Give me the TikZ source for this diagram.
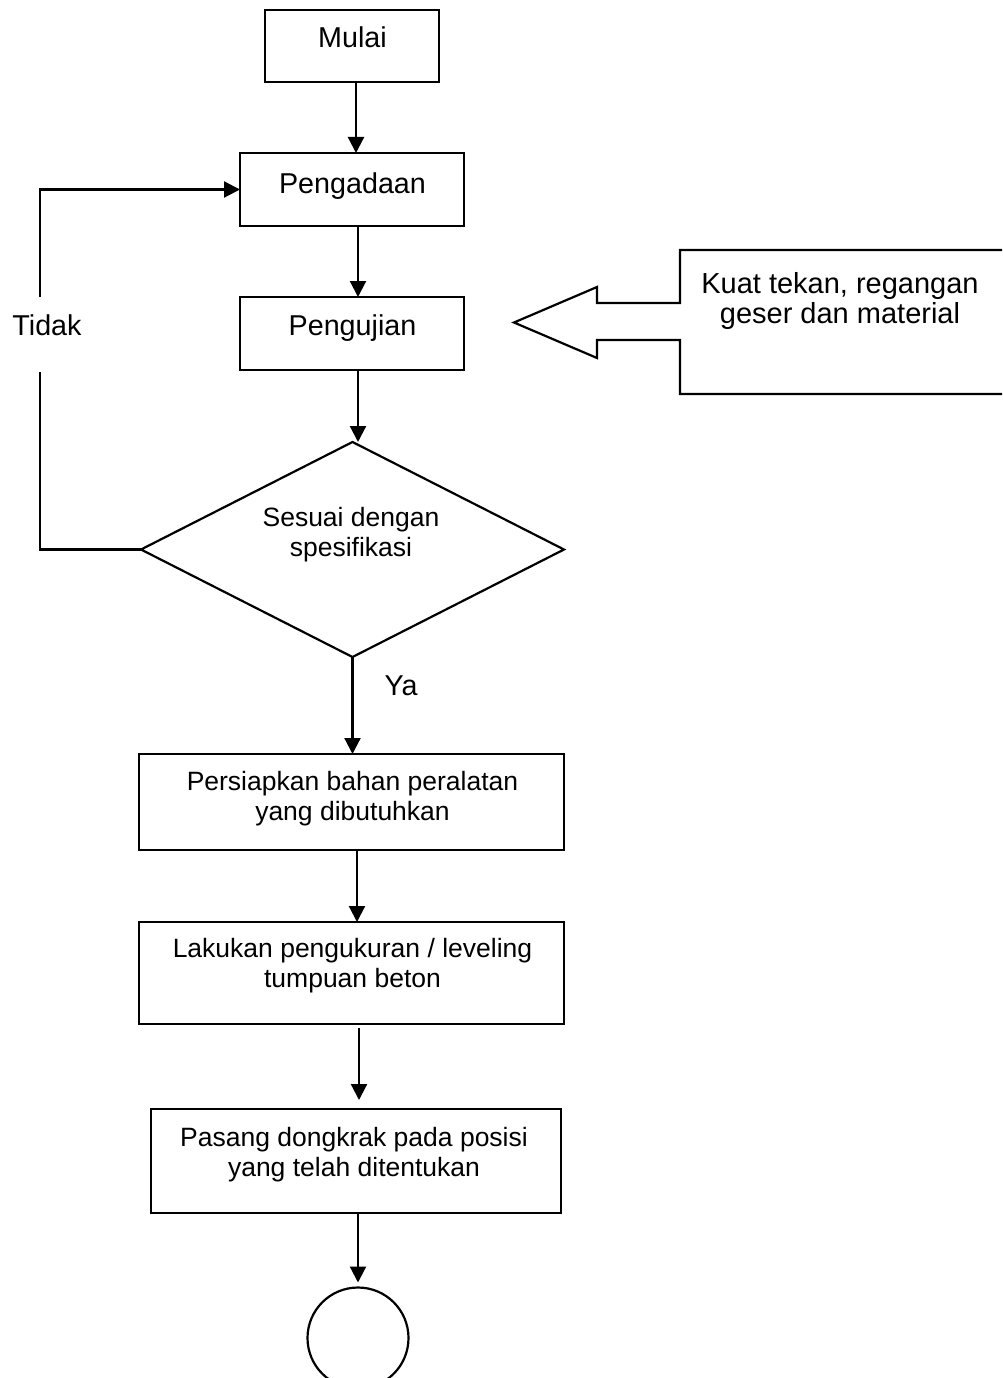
\documentclass[tikz,border=0pt]{standalone}
\usepackage{fontspec}
\setmainfont{Liberation Sans}
\usetikzlibrary{arrows.meta,shapes.geometric}
\begin{document}
\begin{tikzpicture}[x=1pt,y=-1pt,
  box/.style={draw, line width=2.2pt, inner sep=0pt, outer sep=0pt, rectangle},
  arr/.style={line width=2.2pt, -{Triangle[length=16pt,width=16pt]}},
  ln/.style={line width=2.2pt},
  big/.style={font=\fontsize{28.7}{30}\selectfont, inner sep=0pt, anchor=base},
  mid/.style={font=\fontsize{26.5}{30}\selectfont, inner sep=0pt, align=center, anchor=base},
  cal/.style={font=\fontsize{29}{30}\selectfont, inner sep=0pt, align=center, anchor=base},
]
\useasboundingbox (0,0) rectangle (1002,1378);
\clip (0,0) rectangle (1002,1378);
\fill[white] (0,0) rectangle (1002,1378);

% boxes
\node[box, minimum width=174pt, minimum height=72pt] (mulai) at (352,46) {};
\node[box, minimum width=224pt, minimum height=73pt] (peng) at (352,189.5) {};
\node[box, minimum width=224pt, minimum height=73pt] (uji) at (352,333.5) {};
\node[draw, line width=2.2pt, diamond, inner sep=0pt, outer sep=0pt, minimum width=423pt, minimum height=215pt] (dia) at (352.5,549.5) {};
\node[box, minimum width=425pt, minimum height=96pt] (pers) at (351.5,802) {};
\node[box, minimum width=425pt, minimum height=102pt] (lak) at (351.5,973) {};
\node[box, minimum width=410pt, minimum height=104pt] (pas) at (356,1161) {};
\node[draw, line width=2.2pt, circle, inner sep=0pt, outer sep=0pt, minimum size=101pt] (circ) at (358,1338) {};

% texts (multi-line nodes: base = last line)
\node[big] (tmulai) at (352.5,48) {Mulai};
\node[big] (tpeng) at (352.5,193) {Pengadaan};
\node[big] (tuji) at (352.5,335) {Pengujian};
\node[big] (ttidak) at (47,335) {Tidak};
\node[big] (tya) at (401,695) {Ya};
\node[mid] (tdia) at (351,556) {Sesuai dengan\\spesifikasi};
\node[mid] (tpers) at (352.5,820) {Persiapkan bahan peralatan\\yang dibutuhkan};
\node[mid] (tlak) at (352.5,987) {Lakukan pengukuran / leveling\\tumpuan beton};
\node[mid] (tpas) at (354,1176) {Pasang dongkrak pada posisi\\yang telah ditentukan};
\node[cal] (tcal) at (840,323) {Kuat tekan, regangan\\geser dan material};

% callout block arrow
\draw[ln, line join=miter] (1004,250) -- (680,250) -- (680,303) -- (597,303) -- (597,287)
  -- (514,322.5) -- (597,358) -- (597,340) -- (680,340) -- (680,394) -- (1004,394);

% connectors
\coordinate (x356) at (356,0);
\coordinate (x357) at (357,0);
\coordinate (x358) at (358,0);
\coordinate (x359) at (359,0);
\coordinate (loopx) at (40,0);
\coordinate (gapb) at (40,372);
\coordinate (gapt) at (40,297);

\draw[arr] (mulai.south -| x356) -- (peng.north -| x356);
\draw[arr] (peng.south -| x358) -- (uji.north -| x358);
\draw[arr] (uji.south -| x358) -- (dia.north -| x358);
\draw[arr] (dia.south) -- (pers.north -| dia.south);
\draw[arr] (pers.south -| x357) -- (lak.north -| x357);
\draw[arr, shorten <=4pt, shorten >=9pt] (lak.south -| x359) -- (pas.north -| x359);
\draw[arr, shorten >=5pt] (pas.south -| x358) -- (circ.north -| x358);

% Tidak loop
\draw[ln] (dia.west) -- (dia.west -| loopx) -- (gapb);
\draw[arr] (gapt) |- (peng.west);
\end{tikzpicture}
\end{document}
